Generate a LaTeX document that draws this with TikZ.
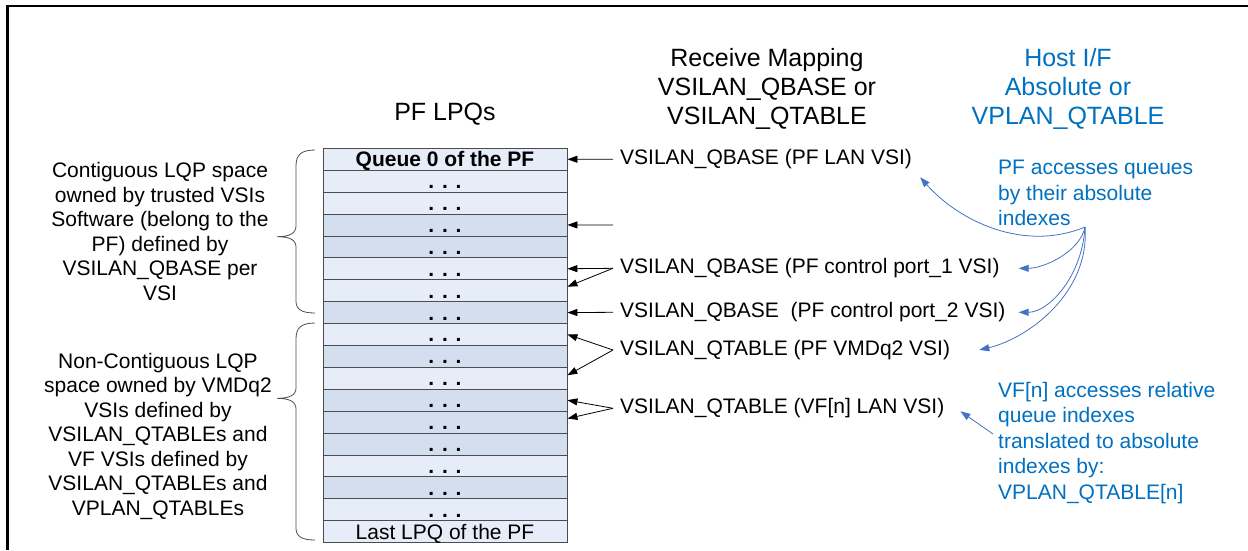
\documentclass[tikz,border=0pt]{standalone}
\usepackage{fontspec}
\setmainfont{Liberation Sans}
\usetikzlibrary{arrows.meta}

\definecolor{qlight}{RGB}{231,237,248}
\definecolor{qdark}{RGB}{211,222,239}
\definecolor{hostblue}{RGB}{0,112,192}
\definecolor{curveblue}{RGB}{68,114,196}

\begin{document}
\begin{tikzpicture}[
x=1pt,
y=-1pt,
every node/.style={font=\fontsize{21}{25}\selectfont},
head/.style={font=\fontsize{25}{29.3}\selectfont,align=center,anchor=north,inner sep=0pt},
side/.style={font=\fontsize{21}{24.5}\selectfont,align=center,anchor=north,inner sep=0pt},
note/.style={font=\fontsize{21}{25.5}\selectfont,text=hostblue,align=left,anchor=north west,inner sep=0pt},
queue/.style={draw=black!70,line width=0.8pt,minimum width=244pt,minimum height=21.9pt,
  inner sep=0pt,text height=15pt,text depth=0pt},
map/.style={anchor=west,inner xsep=7pt,inner ysep=2pt},
tip/.style={line width=0.8pt,-{Triangle[length=10pt,width=7pt]}}
]
\useasboundingbox (0,0) rectangle (1248,550);

% frame
\draw[line width=2.5pt] (1248,6) -- (7.7,6) -- (7.7,550);

% column headings
\node[head,anchor=base] (lpqs) at (445,120) {PF LPQs};
\node[head] (rxmap) at (767,47.8) {Receive Mapping\\VSILAN\_QBASE or\\VSILAN\_QTABLE};
\node[head,text=hostblue] (hostif) at (1068,47.8) {Host I/F\\Absolute or\\VPLAN\_QTABLE};

% queue table
\node[queue,fill=qlight,font=\fontsize{21}{25}\selectfont\bfseries] (q0) at (445,159.25) {Queue 0 of the PF};
\foreach \i/\shade in {1/qlight,2/qlight,3/qdark,4/qdark,5/qlight,6/qlight,7/qdark,8/qlight,
  9/qdark,10/qlight,11/qdark,12/qdark,13/qdark,14/qlight,15/qdark,16/qlight}
  \node[queue,fill=\shade] (q\i) at (445,159.25+21.9*\i) {\textbf{. . .}};
\node[queue,fill=qlight] (q17) at (445,531.55) {Last LPQ of the PF};

% left descriptions
\node[side] (contig) at (160,162.5) {Contiguous LQP space\\owned by trusted VSIs\\Software (belong to the\\PF) defined by\\VSILAN\_QBASE per\\VSI};
\node[side] (noncontig) at (158,353) {Non-Contiguous LQP\\space owned by VMDq2\\VSIs defined by\\VSILAN\_QTABLEs and\\VF VSIs defined by\\VSILAN\_QTABLEs and\\VPLAN\_QTABLEs};

% braces
\draw[black!70,line width=0.8pt] (315,150) .. controls (301,150) and (296,155) .. (296,166) -- (296,226)
  .. controls (296,233) and (290,236.7) .. (277,236.7) .. controls (290,236.7) and (296,240) .. (296,247)
  -- (296,301) .. controls (296,309) and (301,313) .. (315,313);
\draw[black!70,line width=0.8pt] (315,323) .. controls (301,323) and (296,328) .. (296,339) -- (296,388)
  .. controls (296,395) and (290,398.3) .. (277,398.3) .. controls (290,398.3) and (296,402) .. (296,409)
  -- (296,528) .. controls (296,536) and (301,540) .. (315,540);

% receive mapping
\node[map] (m0) at (613,159.3) {VSILAN\_QBASE (PF LAN VSI)};
\coordinate (m1) at (613,224.9);
\node[map] (m2) at (613,268.3) {VSILAN\_QBASE (PF control port\_1 VSI)};
\node[map] (m3) at (613,312.3) {VSILAN\_QBASE\ \ (PF control port\_2 VSI)};
\node[map] (m4) at (613,350) {VSILAN\_QTABLE (PF VMDq2 VSI)};
\node[map] (m5) at (613,408.3) {VSILAN\_QTABLE (VF[n] LAN VSI)};

\draw[tip] (m0.west) -- (q0.east);
\draw[tip] (m1) -- (q3.east);
\draw[tip] (m2.west) -- (q5.east);
\draw[tip] (m2.west) -- ([yshift=4pt]q6.east);
\draw[tip] (m3.west) -- (q7.east);
\draw[tip] (m4.west) -- (q8.east);
\draw[tip] (m4.west) -- ([yshift=3pt]q10.east);
\draw[tip] (m5.west) -- (q11.east);
\draw[tip] (m5.west) -- ([yshift=3.5pt]q12.east);

% host notes
\node[note] (pfacc) at (998,160) {PF accesses queues\\by their absolute\\indexes};
\node[note] (vfacc) at (998,382) {VF[n] accesses relative\\queue indexes\\translated to absolute\\indexes by:\\VPLAN\_QTABLE[n]};
\coordinate (hub) at (1085,227);

\draw[tip,curveblue] (hub) .. controls +(-60,25) and +(40,45) .. ([xshift=1pt,yshift=-6pt]m0.south east);
\draw[tip,curveblue] (hub) .. controls +(-5,25) and +(25,0) .. ([xshift=12pt]m2.east);
\draw[tip,curveblue] (hub) .. controls +(-3,50) and +(30,0) .. ([xshift=6pt]m3.east);
\draw[tip,curveblue] (hub) .. controls +(5,65) and +(50,-12) .. ([xshift=22pt]m4.east);
\draw[tip,curveblue] ([shift={(-5pt,9pt)}]vfacc.west) -- ([xshift=9pt,yshift=-3pt]m5.east);

\end{tikzpicture}
\end{document}
